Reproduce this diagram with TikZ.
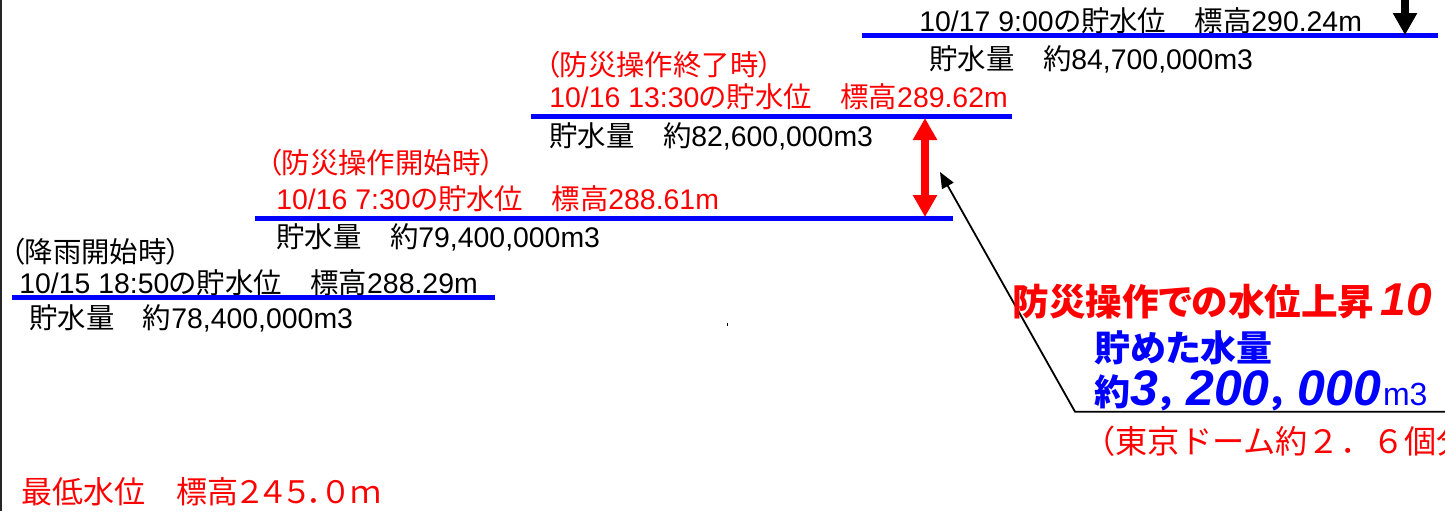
\documentclass[tikz,border=0pt]{standalone}
\usepackage{fontspec}
\setmainfont{Liberation Sans}
\newfontfamily\jp{Noto Sans CJK JP}[RawFeature=+palt]
\newfontfamily\jpf{Noto Sans CJK JP}
\usetikzlibrary{arrows.meta}
\definecolor{pblue}{RGB}{0,0,255}
\definecolor{pred}{RGB}{255,0,0}
\newcommand\J[1]{{\jp #1}}
\begin{document}
\begin{tikzpicture}[x=0.5pt,y=-0.5pt,
  lbl/.style={anchor=base west, inner sep=0pt, font=\fontsize{14.2}{16}\selectfont},
  level/.style={draw=pblue, line width=2.5pt},
  bigarrow/.style={line width=3.8pt}]
\useasboundingbox (0,0) rectangle (1445,511);
\clip (0,0) rectangle (1445,511);
% left frame line
\draw[line width=1.25pt, black!85] (1.2,0) -- (1.2,511);
% level 1
\node[lbl] (t1) at (10,262.5) {\J{（降雨開始時）}};
\node[lbl] (d1) at (19,293.5) {10/15 18:50\J{の貯水位　標高}288.29m};
\draw[level] (12,297.5) -- (495,297.5);
\node[lbl] (v1) at (29,328.5) {\J{貯水量　約}78,400,000m3};
% level 2
\node[lbl, text=pred] (t2) at (267,173.5) {\J{（防災操作開始時）}};
\node[lbl, text=pred] (d2) at (276,209.5) {10/16 7:30\J{の貯水位　標高}288.61m};
\draw[level] (255,218) -- (953,218);
\node[lbl] (v2) at (276,247.5) {\J{貯水量　約}79,400,000m3};
% level 3
\node[lbl, text=pred] (t3) at (545,75.5) {\J{（防災操作終了時）}};
\node[lbl, text=pred] (d3) at (549,107.5) {10/16 13:30\J{の貯水位　標高}289.62m};
\draw[level] (531,116) -- (1012,116);
\node[lbl] (v3) at (549,146.5) {\J{貯水量　約}82,600,000m3};
% level 4
\node[lbl] (d4) at (919,31.5) {10/17 9:00\J{の貯水位　標高}290.24m};
\draw[level] (862,35.5) -- (1438,35.5);
\node[lbl] (v4) at (929,69.5) {\J{貯水量　約}84,700,000m3};
% arrows
\coordinate (topin) at (1405,-6);
\coordinate (L4t) at (1405,35);
\draw[bigarrow, black, -{Triangle[width=11.5pt,length=11pt]}] (topin) -- (L4t);
\coordinate (L3b) at (925,118);
\coordinate (L2t) at (925,217);
\draw[bigarrow, pred, {Triangle[width=11.5pt,length=11pt]}-{Triangle[width=11.5pt,length=11pt]}] (L3b) -- (L2t);
% callout
\coordinate (rightend) at (1450,411.7);
\coordinate (corner) at (1075,411.7);
\coordinate (ptip) at (940,172);
\draw[line width=0.9pt, -{Triangle[width=6.5pt,length=8pt]}] (rightend) -- (corner) -- (ptip);
\node[anchor=base west, inner sep=0pt, text=pred, font=\fontsize{18.3}{20}\selectfont] (rise) at (1012,315.6)
  {\J{\bfseries 防災操作での水位上昇}\kern3pt{\fontsize{23}{24}\selectfont\bfseries\itshape 10}};
\node[anchor=base west, inner sep=0pt, text=pblue, font=\fontsize{18}{20}\selectfont] (stored) at (1094,361)
  {\J{\bfseries 貯めた水量}};
\node[anchor=base west, inner sep=0pt, text=pblue, font=\fontsize{18}{20}\selectfont] (vol) at (1094,405)
  {\J{\bfseries 約}{\fontsize{25}{26}\selectfont\bfseries\itshape 3}\kern1pt\J{\bfseries ，}\kern4pt{\fontsize{25}{26}\selectfont\bfseries\itshape 200}\kern1pt\J{\bfseries ，}\kern4pt{\fontsize{25}{26}\selectfont\bfseries\itshape 000}\kern1pt{\fontsize{16}{18}\selectfont m3}};
\node[anchor=base west, inner sep=0pt, text=pred, font=\fontsize{16.1}{18}\selectfont] (dome) at (1083,453.5)
  {{\jpf （東京ドーム約２．６個分}};
% minimum level
\node[anchor=base west, inner sep=0pt, text=pred, font=\fontsize{15.5}{17}\selectfont] (minlv) at (21,503)
  {\J{最低水位　標高２４５．０ｍ}};
% small mark
\fill (726.5,323) rectangle (727.5,326);
\end{tikzpicture}
\end{document}
